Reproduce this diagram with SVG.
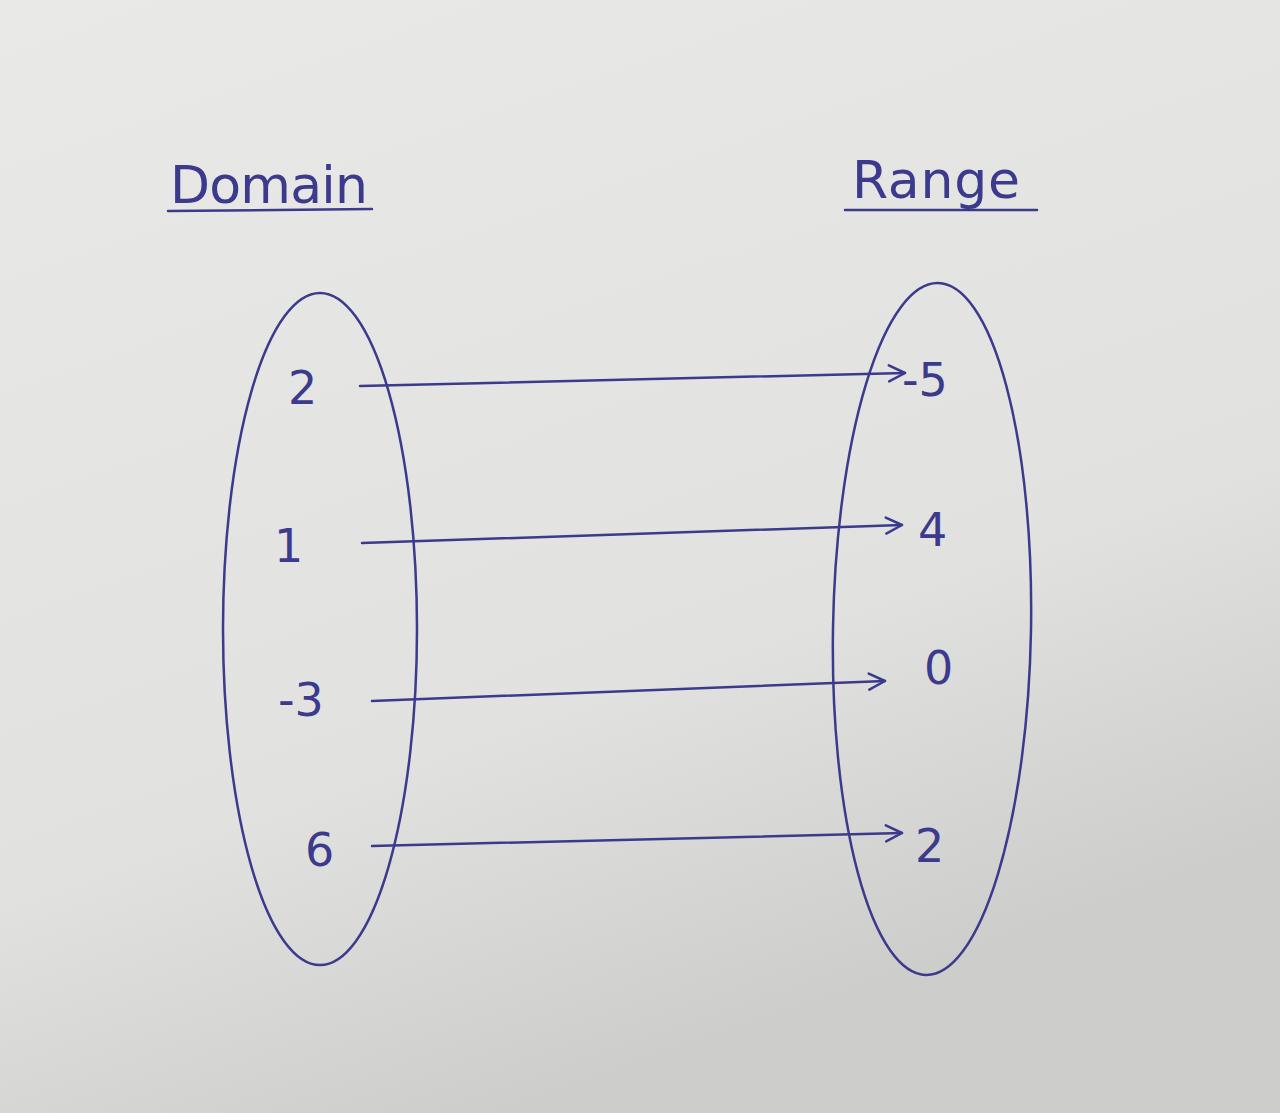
<svg xmlns="http://www.w3.org/2000/svg" width="1280" height="1113" viewBox="0 0 1280 1113">
<defs>
<linearGradient id="paper" x1="0" y1="0" x2="0.4" y2="1">
<stop offset="0" stop-color="#e9e9e7"/>
<stop offset="0.7" stop-color="#e1e1df"/>
<stop offset="1" stop-color="#cdcdcb"/>
</linearGradient>
<marker id="ah" viewBox="0 0 20 20" refX="18" refY="10" markerWidth="20" markerHeight="20" markerUnits="userSpaceOnUse" orient="auto">
<path d="M2,2 L18,10 L2,18" fill="none" stroke="#3b3a8c" stroke-width="2.5" stroke-linecap="round" stroke-linejoin="round"/>
</marker>
</defs>
<style>
.ink{fill:none;stroke:#3b3a8c;stroke-width:2.5;stroke-linecap:round}
.t{font-family:"DejaVu Sans",sans-serif;fill:#3b3a8c;font-size:46px}
.h{font-family:"DejaVu Sans",sans-serif;fill:#3b3a8c;font-size:52px}
</style>
<rect width="1280" height="1113" fill="url(#paper)"/>
<g id="domain-title">
<text class="h" x="170" y="203" textLength="198">Domain</text>
<line class="ink" x1="168" y1="211" x2="372" y2="209"/>
</g>
<g id="range-title">
<text class="h" x="852" y="198" textLength="168">Range</text>
<line class="ink" x1="845" y1="210" x2="1037" y2="210"/>
</g>
<g id="domain">
<ellipse class="ink" cx="320" cy="629" rx="97" ry="336"/>
<text class="t" x="288" y="404">2</text>
<text class="t" x="274" y="562">1</text>
<text class="t" x="278" y="716">-3</text>
<text class="t" x="305" y="866">6</text>
</g>
<g id="range">
<ellipse class="ink" cx="932" cy="629" rx="99" ry="346" transform="rotate(1 932 629)"/>
<text class="t" x="902" y="396">-5</text>
<text class="t" x="918" y="546">4</text>
<text class="t" x="924" y="684">0</text>
<text class="t" x="915" y="862">2</text>
</g>
<g id="connectors">
<path class="ink" d="M360,386 L905,373" marker-end="url(#ah)"/>
<path class="ink" d="M362,543 L902,525" marker-end="url(#ah)"/>
<path class="ink" d="M372,701 L885,681" marker-end="url(#ah)"/>
<path class="ink" d="M372,846 L902,833" marker-end="url(#ah)"/>
</g>
</svg>
